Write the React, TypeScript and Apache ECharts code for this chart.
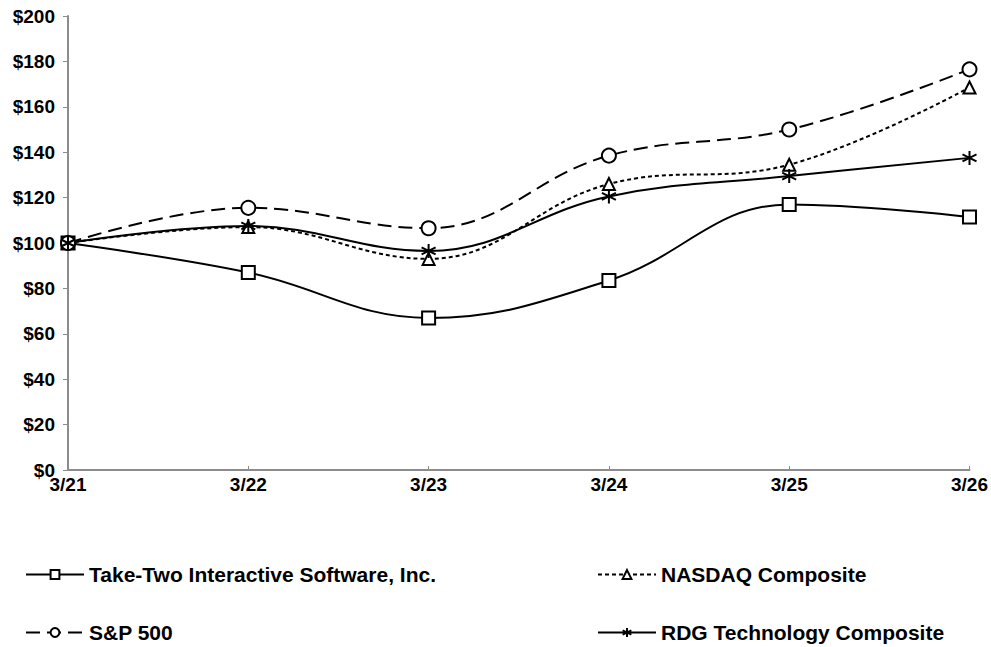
import React, { useEffect, useRef } from "react";
import * as echarts from "echarts";

const categories = ["3/21", "3/22", "3/23", "3/24", "3/25", "3/26"];
const takeTwo = [100, 87, 67, 83.5, 117, 111.5];
const nasdaq = [100, 107, 93, 126, 134.5, 168.5];
const sp500 = [100, 115.5, 106.5, 138.5, 150, 176.5];
const rdg = [100, 107.5, 96.5, 120.5, 129.5, 137.5];
const seriesNames = [
  "Take-Two Interactive Software, Inc.",
  "NASDAQ Composite",
  "S&P 500",
  "RDG Technology Composite",
];

const asterisk = "path://M0,-10L0,10M-8.66,-5L8.66,5M-8.66,5L8.66,-5";
const FONT = "'Liberation Sans', Arial, sans-serif";

export default function App() {
  const ref = useRef<HTMLDivElement>(null);
  useEffect(() => {
    const chart = echarts.init(ref.current!, null, { renderer: "svg" });
    const mk = (name: string, data: number[], symbol: string, type: any, size: number) => ({
      name,
      type: "line",
      data,
      smooth: 0.4,
      symbol,
      symbolSize: size,
      showSymbol: true,
      lineStyle: { color: "#000", width: 2, type },
      itemStyle: symbol === asterisk
        ? { color: "#000", borderColor: "#000", borderWidth: 2 }
        : { color: "#fff", borderColor: "#000", borderWidth: 2 },
      z: 2,
    });
    const legendBase = {
      orient: "horizontal",
      itemWidth: 58,
      itemHeight: 11,
      itemGap: 10,
      textStyle: { color: "#000", fontSize: 21, fontWeight: "bold", fontFamily: FONT },
      selectedMode: false,
    };
    chart.setOption({
      animation: false,
      backgroundColor: "#fff",
      grid: { left: 68, right: 21, top: 16, bottom: 177 },
      legend: [
        { ...legendBase, data: [seriesNames[0]], left: 20, top: 559 },
        { ...legendBase, data: [seriesNames[1]], left: 592, top: 559 },
        { ...legendBase, data: [seriesNames[2]], left: 20, top: 617 },
        { ...legendBase, data: [seriesNames[3]], left: 592, top: 617 },
      ],
      xAxis: {
        type: "category",
        data: categories,
        boundaryGap: false,
        axisLine: { lineStyle: { color: "#8c8c8c", width: 2 } },
        axisTick: { inside: true, length: 4, lineStyle: { color: "#8c8c8c" } },
        axisLabel: { color: "#000", fontSize: 19, fontWeight: "bold", fontFamily: FONT, margin: 5 },
      },
      yAxis: {
        type: "value",
        min: 0,
        max: 200,
        interval: 20,
        splitLine: { show: false },
        axisLine: { show: true, lineStyle: { color: "#8c8c8c", width: 2 } },
        axisTick: { show: true, length: 5, lineStyle: { color: "#8c8c8c" } },
        axisLabel: {
          color: "#000",
          fontSize: 19,
          fontWeight: "bold",
          fontFamily: FONT,
          margin: 13,
          formatter: (v: number) => "$" + v,
        },
      },
      series: [
        mk(seriesNames[0], takeTwo, "rect", "solid", 13),
        mk(seriesNames[1], nasdaq, "triangle", [4, 3], 12),
        mk(seriesNames[2], sp500, "circle", [14, 7], 14),
        mk(seriesNames[3], rdg, asterisk, "solid", 14),
      ],
    });
    return () => chart.dispose();
  }, []);
  return <div ref={ref} style={{ width: 991, height: 647, position: "absolute", left: 0, top: 0 }} />;
}
